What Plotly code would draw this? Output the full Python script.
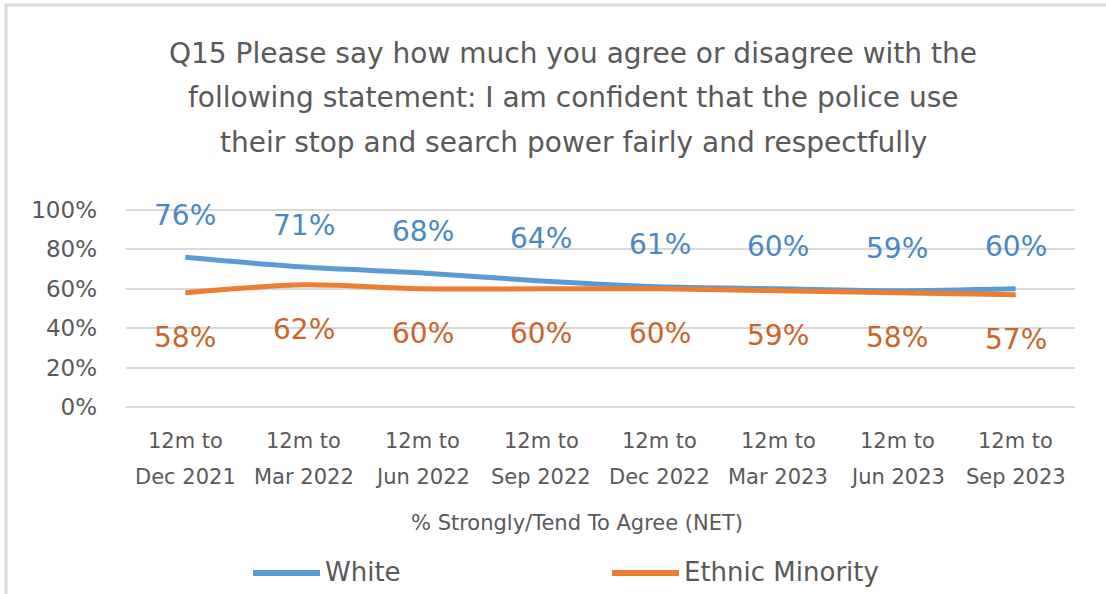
import plotly.graph_objects as go

# Survey periods (two-line category labels)
periods = [
    "12m to<br>Dec 2021", "12m to<br>Mar 2022", "12m to<br>Jun 2022", "12m to<br>Sep 2022",
    "12m to<br>Dec 2022", "12m to<br>Mar 2023", "12m to<br>Jun 2023", "12m to<br>Sep 2023",
]
white = [76, 71, 68, 64, 61, 60, 59, 60]
ethnic_minority = [58, 62, 60, 60, 60, 59, 58, 57]
y_ticks = [0, 20, 40, 60, 80, 100]
title_lines = [
    "Q15 Please say how much you agree or disagree with the",
    "following statement: I am confident that the police use",
    "their stop and search power fairly and respectfully",
]

BLUE = "#5B9BD5"
ORANGE = "#ED7D31"
BLUE_TXT = "#4A87C6"
ORANGE_TXT = "#C9652A"
GREY_TXT = "#595959"
FONT = "DejaVu Sans"

W, H = 1106, 594
PL, PR, PT, PB = 126, 1075, 206, 411  # plot area in pixels
Y_RANGE = [-2, 102]


def px(xp):
    return (xp - PL) / (PR - PL)


def py(yp):
    return (PB - yp) / (PB - PT)


x_idx = list(range(len(periods)))

fig = go.Figure()
fig.add_trace(go.Scatter(
    x=x_idx, y=white, name="White", mode="lines",
    line=dict(color=BLUE, width=5, shape="spline", smoothing=0.8),
    showlegend=False, hoverinfo="skip",
))
fig.add_trace(go.Scatter(
    x=x_idx, y=ethnic_minority, name="Ethnic Minority", mode="lines",
    line=dict(color=ORANGE, width=5, shape="spline", smoothing=0.8),
    showlegend=False, hoverinfo="skip",
))

annotations = []
# data labels: White above the line, Ethnic Minority below
for i, v in enumerate(white):
    annotations.append(dict(x=i, y=v, xref="x", yref="y", text=f"{v}%", showarrow=False,
                            yshift=42, font=dict(family=FONT, size=28, color=BLUE_TXT)))
for i, v in enumerate(ethnic_minority):
    annotations.append(dict(x=i, y=v, xref="x", yref="y", text=f"{v}%", showarrow=False,
                            yshift=-45, font=dict(family=FONT, size=28, color=ORANGE_TXT)))

# category labels, two lines with wide spacing
for i, p in enumerate(periods):
    top, bottom = p.split("<br>")
    annotations.append(dict(x=i, y=py(441), xref="x", yref="paper", text=top,
                            showarrow=False, yanchor="middle",
                            font=dict(family=FONT, size=21, color=GREY_TXT)))
    annotations.append(dict(x=i, y=py(477), xref="x", yref="paper", text=bottom,
                            showarrow=False, yanchor="middle",
                            font=dict(family=FONT, size=21, color=GREY_TXT)))

# axis title
annotations.append(dict(x=px(577), y=py(523), xref="paper", yref="paper",
                        text="% Strongly/Tend To Agree (NET)", showarrow=False, yanchor="middle",
                        font=dict(family=FONT, size=21, color=GREY_TXT)))

# chart title
for line, yc in zip(title_lines, [53, 97, 142]):
    annotations.append(dict(x=px(573), y=py(yc), xref="paper", yref="paper", text=line,
                            showarrow=False, yanchor="middle",
                            font=dict(family=FONT, size=28, color=GREY_TXT)))

# frame edges
shapes = [
    dict(type="line", xref="paper", yref="paper", x0=px(6), x1=px(6), y0=py(W), y1=py(4),
         line=dict(color="#D9D9D9", width=3)),
    dict(type="line", xref="paper", yref="paper", x0=px(5), x1=px(W + 5), y0=py(5), y1=py(5),
         line=dict(color="#D9D9D9", width=3)),
]
# legend drawn by hand for the long line keys
legend_items = [("White", BLUE, 253, 320, 323), ("Ethnic Minority", ORANGE, 612, 679, 682)]
for name, color, lx0, lx1, tx in legend_items:
    shapes.append(dict(type="line", xref="paper", yref="paper",
                       x0=px(lx0), x1=px(lx1), y0=py(573), y1=py(573),
                       line=dict(color=color, width=6)))
    annotations.append(dict(x=px(tx), y=py(572), xref="paper", yref="paper", text=name,
                            showarrow=False, xanchor="left", yanchor="middle",
                            font=dict(family=FONT, size=26, color=GREY_TXT)))

fig.update_layout(
    width=W, height=H,
    paper_bgcolor="white", plot_bgcolor="white",
    margin=dict(l=PL, r=W - PR, t=PT, b=H - PB),
    xaxis=dict(range=[-0.5, len(periods) - 0.5], showticklabels=False, showgrid=False,
               zeroline=False, showline=False, fixedrange=True),
    yaxis=dict(range=Y_RANGE, tickvals=y_ticks, ticktext=[f"{t}%" for t in y_ticks],
               showgrid=True, gridcolor="#D9D9D9", gridwidth=2, zeroline=False,
               ticks="", ticklabelstandoff=28,
               tickfont=dict(family=FONT, size=23, color=GREY_TXT)),
    shapes=shapes, annotations=annotations,
)

fig.write_html("out.html")
